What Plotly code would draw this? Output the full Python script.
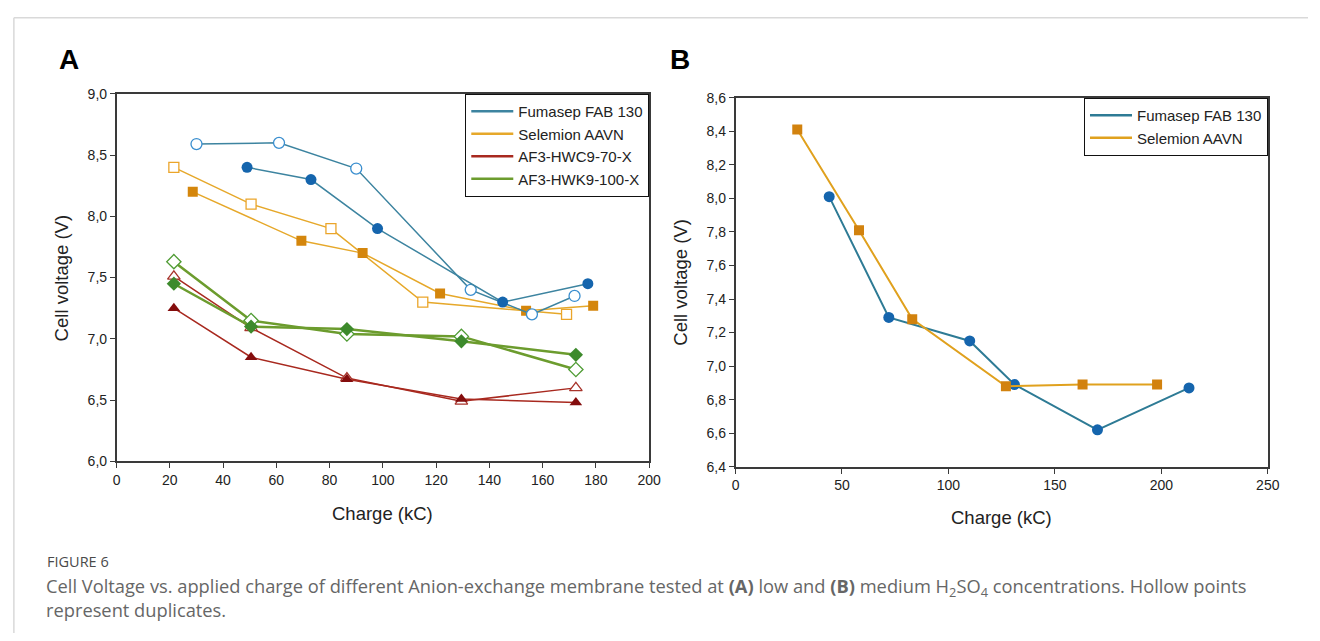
import plotly.graph_objects as go

W, H = 1320, 641

# ---------------- Panel A data (low H2SO4) ----------------
a_fum_hollow_x = [30, 61, 90, 133, 156, 172]
a_fum_hollow_y = [8.59, 8.60, 8.39, 7.40, 7.20, 7.35]
a_fum_filled_x = [49, 73, 98, 145, 177]
a_fum_filled_y = [8.40, 8.30, 7.90, 7.30, 7.45]

a_sel_hollow_x = [21.5, 50.5, 80.5, 115, 169]
a_sel_hollow_y = [8.40, 8.10, 7.90, 7.30, 7.20]
a_sel_filled_x = [28.6, 69.4, 92.4, 121.5, 153.8, 179]
a_sel_filled_y = [8.20, 7.80, 7.70, 7.37, 7.23, 7.27]

a_hwc_hollow_x = [21.5, 50.5, 86.5, 129.5, 172.5]
a_hwc_hollow_y = [7.51, 7.09, 6.68, 6.49, 6.60]
a_hwc_filled_x = [21.5, 50.5, 86.5, 129.5, 172.5]
a_hwc_filled_y = [7.25, 6.85, 6.67, 6.51, 6.48]

a_hwk_hollow_x = [21.5, 50.5, 86.5, 129.5, 172.5]
a_hwk_hollow_y = [7.63, 7.15, 7.04, 7.02, 6.75]
a_hwk_filled_x = [21.5, 50.5, 86.5, 129.5, 172.5]
a_hwk_filled_y = [7.45, 7.10, 7.08, 6.98, 6.87]

# ---------------- Panel B data (medium H2SO4) ----------------
b_fum_x = [44, 72, 110, 131, 170, 213]
b_fum_y = [8.01, 7.29, 7.15, 6.89, 6.62, 6.87]
b_sel_x = [29, 58, 83, 127, 163, 198]
b_sel_y = [8.41, 7.81, 7.28, 6.88, 6.89, 6.89]

names = ["Fumasep FAB 130", "Selemion AAVN", "AF3-HWC9-70-X", "AF3-HWK9-100-X"]

FUM_LINE, FUM_MK, FUM_OPEN = "#3d84a0", "#1565ad", "#3b8fcf"
SEL_LINE, SEL_MK, SEL_OPEN = "#e6a82a", "#d4860c", "#eba52a"
HWC_LINE, HWC_MK, HWC_OPEN = "#a8291f", "#840d0d", "#a8352c"
HWK_LINE, HWK_MK, HWK_OPEN = "#6c9c2e", "#3d8a2c", "#4f9c34"

fig = go.Figure()


def add(x, y, line_c, mk_c, symbol, hollow, axis, lw=1.5, size=10):
    fig.add_trace(go.Scatter(
        x=x, y=y, mode="lines+markers", showlegend=False,
        xaxis="x" + axis if axis != "1" else "x",
        yaxis="y" + axis if axis != "1" else "y",
        line=dict(color=line_c, width=lw),
        marker=dict(symbol=symbol, size=size,
                    color="white" if hollow else mk_c,
                    line=dict(color=mk_c, width=1.3 if hollow else 0)),
    ))


# Panel A traces
add(a_hwc_hollow_x, a_hwc_hollow_y, HWC_LINE, HWC_OPEN, "triangle-up", True, "1", 1.5, 11)
add(a_hwc_filled_x, a_hwc_filled_y, HWC_LINE, HWC_MK, "triangle-up", False, "1", 1.5, 11)
add(a_hwk_hollow_x, a_hwk_hollow_y, HWK_LINE, HWK_OPEN, "diamond", True, "1", 2.5, 11)
add(a_hwk_filled_x, a_hwk_filled_y, HWK_LINE, HWK_MK, "diamond", False, "1", 2.5, 11)
add(a_sel_hollow_x, a_sel_hollow_y, SEL_LINE, SEL_OPEN, "square", True, "1", 1.5, 10)
add(a_sel_filled_x, a_sel_filled_y, SEL_LINE, SEL_MK, "square", False, "1", 1.5, 10)
add(a_fum_hollow_x, a_fum_hollow_y, FUM_LINE, FUM_OPEN, "circle", True, "1", 1.5, 11)
add(a_fum_filled_x, a_fum_filled_y, FUM_LINE, FUM_MK, "circle", False, "1", 1.5, 11)

# Panel B traces
add(b_fum_x, b_fum_y, "#2e7b95", "#1565ad", "circle", False, "2", 2, 11)
add(b_sel_x, b_sel_y, "#e0a11e", "#d2820e", "square", False, "2", 2, 10)

# legend-only entries (lines only, as in the reference)
for nm, c in zip(names, [FUM_LINE, SEL_LINE, HWC_LINE, HWK_LINE]):
    fig.add_trace(go.Scatter(x=[None], y=[None], mode="lines", name=nm,
                             line=dict(color=c, width=2.5), legend="legend",
                             xaxis="x", yaxis="y"))
for nm, c in zip(names[:2], ["#2e7b95", "#e0a11e"]):
    fig.add_trace(go.Scatter(x=[None], y=[None], mode="lines", name=nm,
                             line=dict(color=c, width=2.5), legend="legend2",
                             xaxis="x2", yaxis="y2"))

AX_COL = "#3a3a3a"
FONT = "Liberation Sans, Arial, sans-serif"


def px(v):
    return v / W


def py(v):
    return 1 - v / H


axis_common = dict(showline=True, mirror=True, linecolor=AX_COL, linewidth=1.5,
                   ticks="outside", ticklen=5, tickwidth=1.2, tickcolor=AX_COL,
                   showgrid=False, zeroline=False,
                   tickfont=dict(family=FONT, size=14, color="#222"))

legend_common = dict(xanchor="right", yanchor="top", bgcolor="white",
                     bordercolor="#111", borderwidth=1.2,
                     font=dict(family=FONT, size=15, color="#222"),
                     tracegroupgap=0, itemwidth=42)

fig.update_layout(
    width=W, height=H, margin=dict(l=0, r=0, t=0, b=0),
    paper_bgcolor="white", plot_bgcolor="white",
    separators=", ",
    font=dict(family=FONT, color="#222"),
    xaxis=dict(domain=[px(114), px(653)], range=[0, 200], dtick=20,
               tickformat="d", anchor="y", **axis_common),
    yaxis=dict(domain=[py(465), py(88)], range=[6.0, 9.0], dtick=0.5,
               tickformat=".1f", anchor="x", **axis_common),
    xaxis2=dict(domain=[px(740.5), px(1279.3)], range=[0, 250], dtick=50,
                tickformat="d", anchor="y2", **axis_common),
    yaxis2=dict(domain=[py(470.5), py(92)], range=[6.4, 8.6], dtick=0.2,
                tickformat=".1f", anchor="x2", **axis_common),
    legend=dict(x=px(653), y=py(88), **legend_common),
    legend2=dict(x=px(1279.3), y=py(92), **legend_common),
)


def label(text, x, y, size, color="#222", angle=0, xa="center", ya="middle", family=FONT):
    return dict(text=text, x=px(x), y=py(y), xref="paper", yref="paper",
                xanchor=xa, yanchor=ya, showarrow=False, textangle=angle,
                font=dict(family=family, size=size, color=color))


ann = [
    label("<b>A</b>", 66, 53, 28, "#000"),
    label("<b>B</b>", 684, 53, 28, "#000"),
    label("Charge (kC)", 383, 518, 18.5),
    label("Charge (kC)", 1010, 523, 18.5),
    label("Cell voltage (V)", 58, 277, 18.5, angle=-90),
    label("Cell voltage (V)", 685, 282, 18.5, angle=-90),
]
CAP_FONT = "Open Sans, Lato, sans-serif"
ann.append(label("FIGURE 6", 41, 568, 14.5, "#4a4a4a", xa="left", family=CAP_FONT))
cap = label(("Cell Voltage vs. applied charge of different Anion-exchange membrane tested at "
             "<b>(A)</b> low and <b>(B)</b> medium H<sub>2</sub>SO<sub>4</sub> concentrations. "
             "Hollow points<br>represent duplicates."),
            40, 577, 18.3, "#666", xa="left", ya="top", family=CAP_FONT)
cap["align"] = "left"
ann.append(cap)

fig.update_layout(annotations=ann)

# light frame (top and left edges)
fig.add_shape(type="line", xref="paper", yref="paper", x0=px(10), x1=1, y0=py(10), y1=py(10),
              line=dict(color="#d9d9d9", width=1.5))
fig.add_shape(type="line", xref="paper", yref="paper", x0=px(10), x1=px(10), y0=0, y1=py(10),
              line=dict(color="#d9d9d9", width=1.5))

fig.write_html("out.html")
